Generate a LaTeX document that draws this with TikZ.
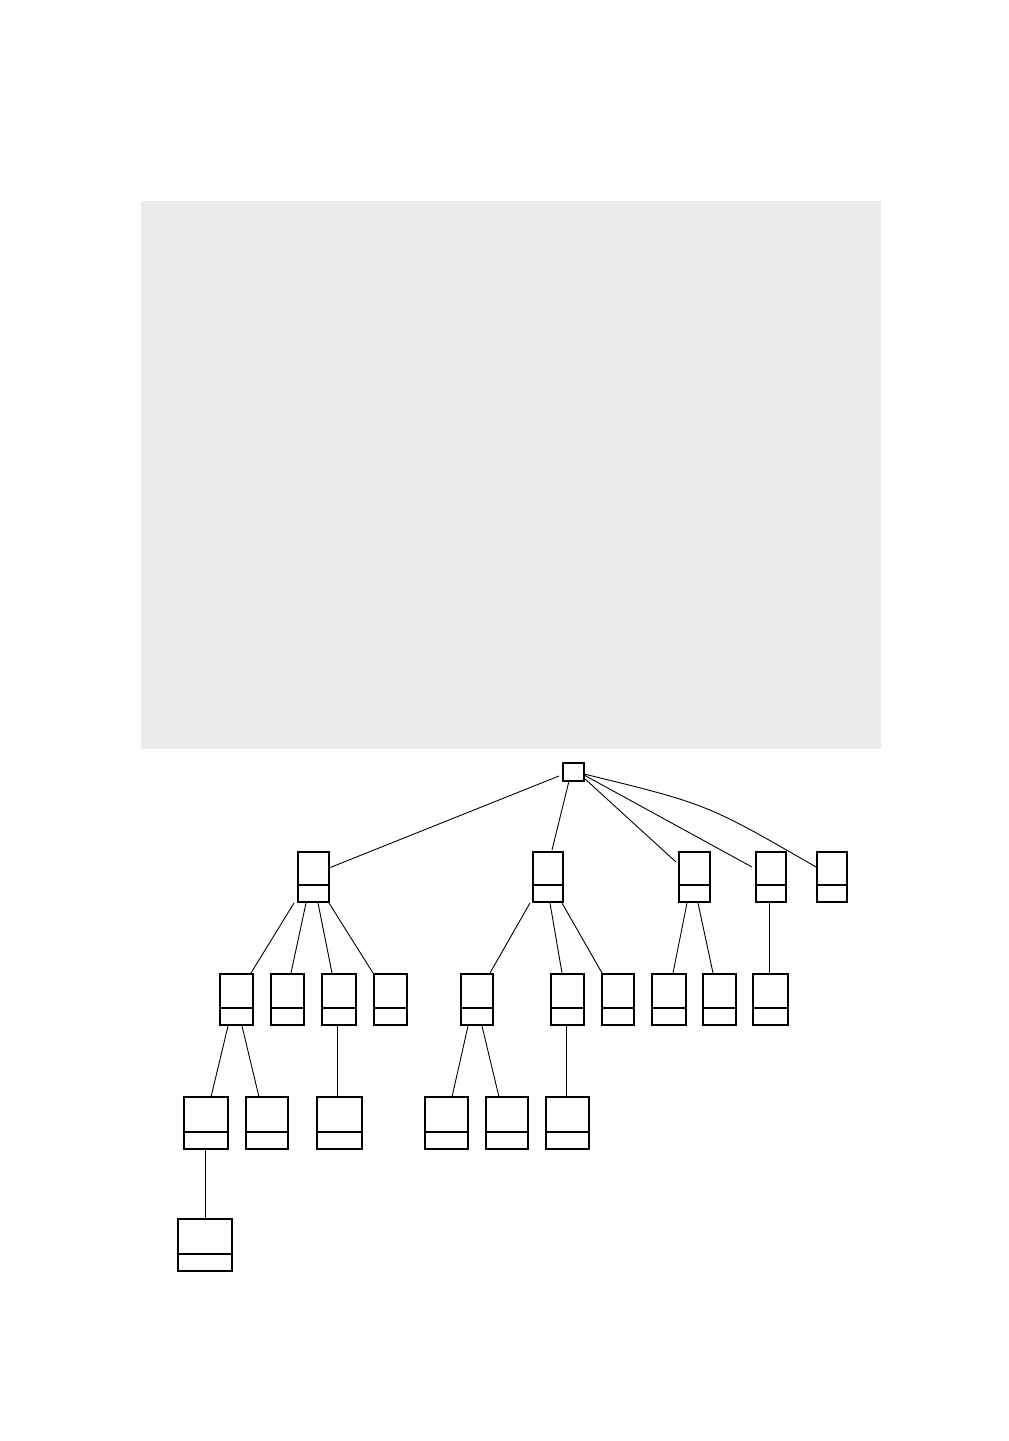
\documentclass[tikz,border=0pt]{standalone}
\usetikzlibrary{calc}
\definecolor{panelgray}{HTML}{EBEBEB}
\tikzset{
  box/.style={draw=black, line width=1.7pt, fill=white, inner sep=0pt, outer sep=0pt, rectangle},
  rootbox/.style={box, minimum width=21pt, minimum height=18pt},
  divider/.style={line width=1.7pt},
  link/.style={line width=0.9pt, draw=black},
}
\newcommand{\ubox}[5]{% name, cx, cy, w, h
  \node[box, minimum width=#4pt, minimum height=#5pt] (#1) at (#2,#3) {};
  \draw[divider] ($(#1.south west)+(0,-17)$) -- ($(#1.south east)+(0,-17)$);
}
\newcommand{\edge}[6]{% parent, px, py, child, cx, cy (offsets from north west corners)
  \draw[link] ($(#1.north west)+(#2,#3)$) -- ($(#4.north west)+(#5,#6)$);
}
\begin{document}
\begin{tikzpicture}[x=1pt,y=-1pt]
\useasboundingbox (0,0) rectangle (1009,1441);
\fill[panelgray] (141,201) rectangle (881,749);
% root
\node[rootbox] (root) at (573.5,772) {};
% level 1
\ubox{A}{313.5}{877}{31}{50}
\ubox{B}{548}{877}{30}{50}
\ubox{C}{694.5}{877}{31}{50}
\ubox{D}{771}{877}{30}{50}
\ubox{E}{832}{877}{30}{50}
% level 2
\ubox{A1}{236.5}{999.5}{33}{51}
\ubox{A2}{287.5}{999.5}{33}{51}
\ubox{A3}{339}{999.5}{34}{51}
\ubox{A4}{390.5}{999.5}{33}{51}
\ubox{B1}{477}{999.5}{32}{51}
\ubox{B2}{567.5}{999.5}{33}{51}
\ubox{B3}{618}{999.5}{32}{51}
\ubox{C1}{669}{999.5}{34}{51}
\ubox{C2}{719.5}{999.5}{33}{51}
\ubox{D1}{770.5}{999.5}{35}{51}
% level 3
\ubox{A1a}{206}{1123}{44}{52}
\ubox{A1b}{267}{1123}{42}{52}
\ubox{A3a}{339.5}{1123}{45}{52}
\ubox{B1a}{446.5}{1123}{43}{52}
\ubox{B1b}{507}{1123}{42}{52}
\ubox{B2a}{567.5}{1123}{43}{52}
% level 4
\ubox{A1aa}{205}{1245}{54}{52}
% edges from root
\edge{root}{-4}{13}{A}{31}{16}
\edge{root}{6}{18}{B}{19}{-2}
\edge{root}{21}{15}{C}{-3}{10}
\edge{root}{21}{12}{D}{-4}{15}
\draw[link] ($(root.north west)+(21,11)$) .. controls ($(E.north west)+(-110,-48)$) .. ($(E.north west)+(-1,15)$);
% level 1 -> 2
\edge{A}{-4}{51}{A1}{31}{-1}
\edge{A}{8}{51}{A2}{20}{-1}
\edge{A}{20}{51}{A3}{10}{-1}
\edge{A}{31}{51}{A4}{-1}{-1}
\edge{B}{-3}{51}{B1}{29}{-1}
\edge{B}{17}{51}{B2}{11}{-1}
\edge{B}{29}{51}{B3}{0}{-1}
\edge{C}{8}{51}{C1}{21}{-1}
\edge{C}{19}{51}{C2}{10}{-1}
\edge{D}{13}{51}{D1}{16}{-1}
% level 2 -> 3
\edge{A1}{8}{52}{A1a}{27}{0}
\edge{A1}{22}{52}{A1b}{13}{0}
\edge{A3}{15}{52}{A3a}{20}{0}
\edge{B1}{7}{52}{B1a}{27}{0}
\edge{B1}{21}{52}{B1b}{13}{0}
\edge{B2}{15}{52}{B2a}{20}{0}
% level 3 -> 4
\edge{A1a}{21}{52}{A1aa}{27}{0}
\end{tikzpicture}
\end{document}
